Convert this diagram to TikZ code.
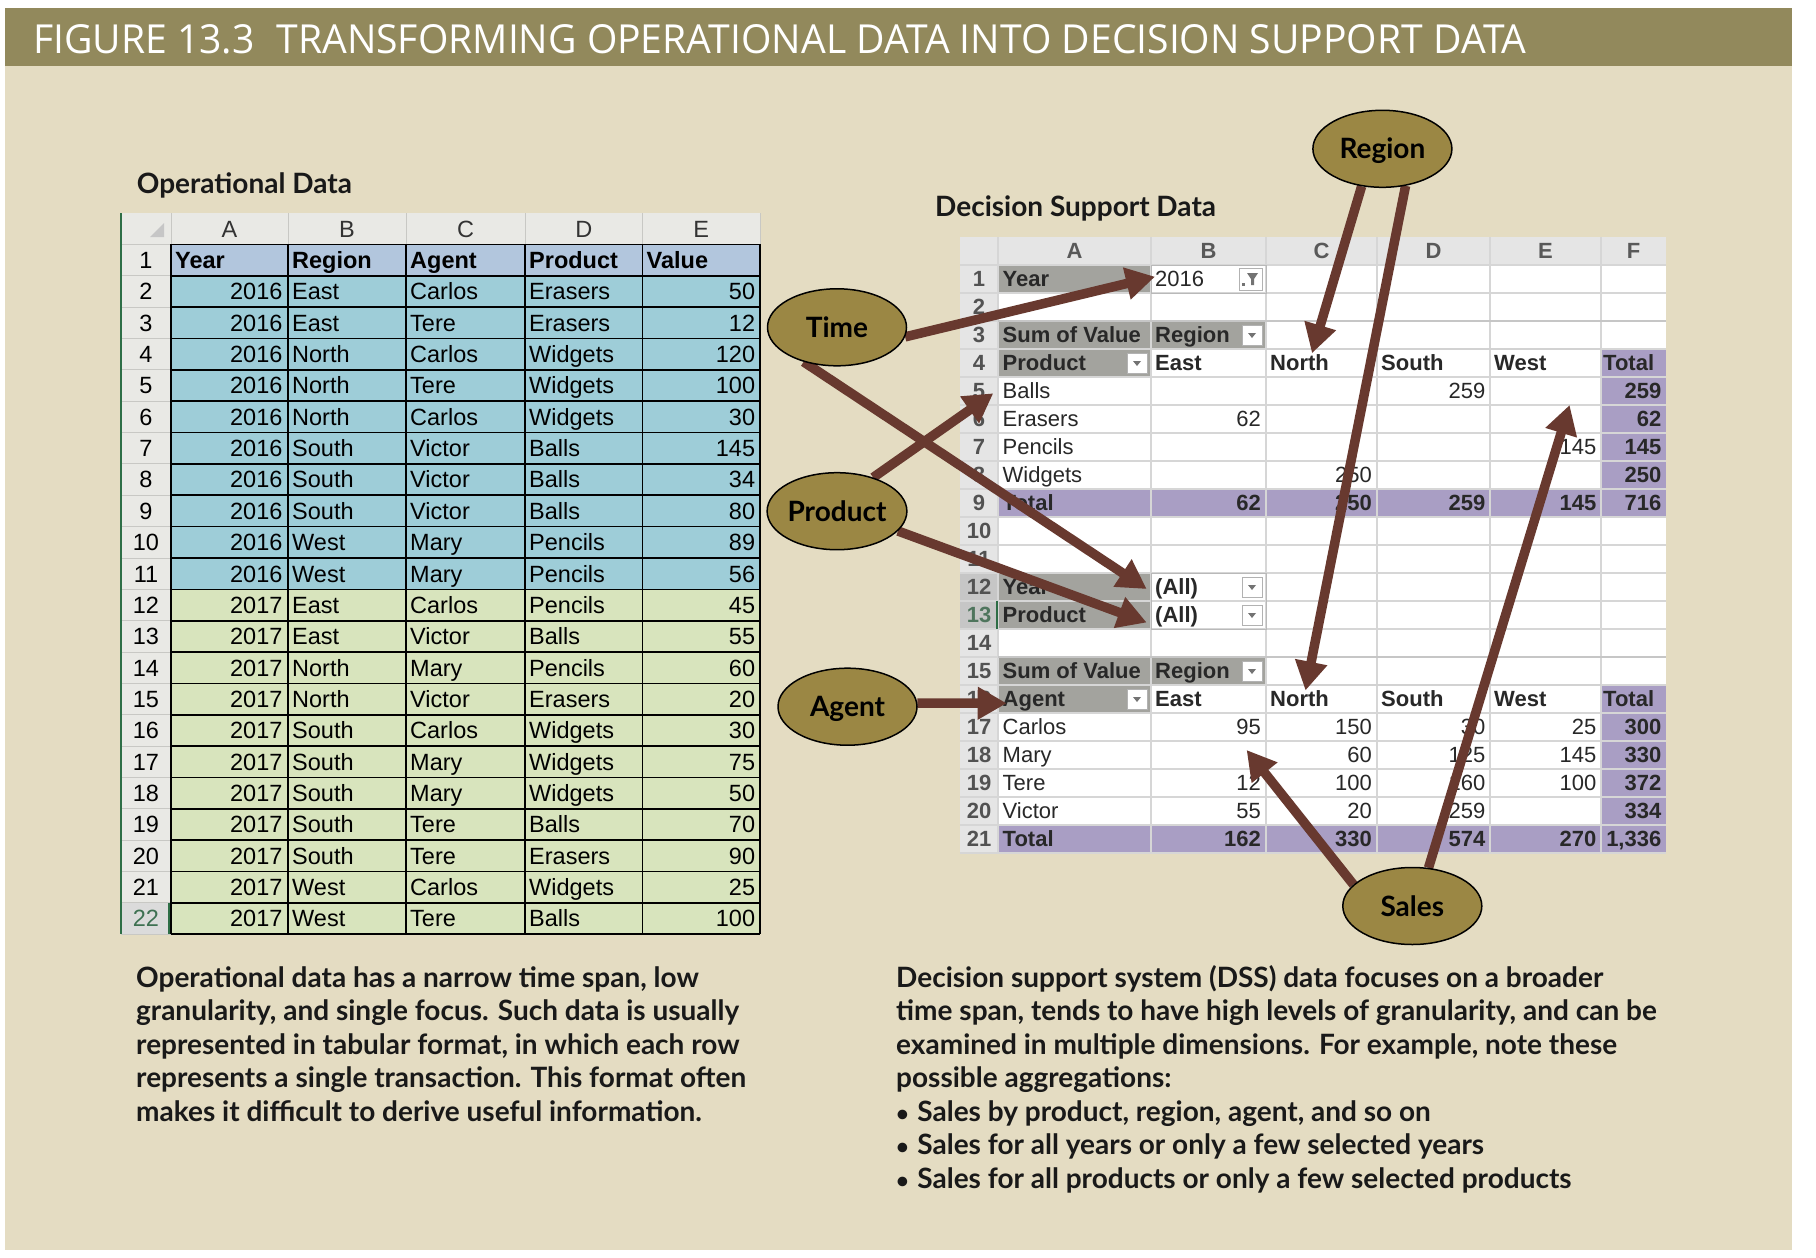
\documentclass[tikz,border=0pt]{standalone}
\usepackage{fontspec}
\usepackage{graphicx}
\usetikzlibrary{arrows.meta,shapes.geometric}
\setmainfont{Lato}
\newfontfamily\lato{Lato}
\newfontfamily\arial{Liberation Sans}
\newfontfamily\osans{Open Sans}
\definecolor{beige}{RGB}{228,220,194}
\definecolor{band}{RGB}{146,137,92}
\definecolor{hdrgray}{RGB}{233,233,229}
\definecolor{hdrline}{RGB}{200,200,196}
\definecolor{rowoneblue}{RGB}{178,198,221}
\definecolor{bluesix}{RGB}{158,205,216}
\definecolor{greenseven}{RGB}{216,228,189}
\definecolor{xlgreen}{RGB}{46,110,70}
\definecolor{pivgray}{RGB}{163,163,158}
\definecolor{pivpurple}{RGB}{169,158,196}
\definecolor{rhdr}{RGB}{229,229,229}
\definecolor{rgrid}{RGB}{214,214,214}
\definecolor{rtext}{RGB}{40,40,40}
\definecolor{arrowc}{RGB}{104,57,47}
\definecolor{ellfill}{RGB}{155,135,68}
\pgfdeclarelayer{arrowlayer}
\pgfdeclarelayer{front}
\pgfsetlayers{main,arrowlayer,front}
\tikzset{
  ltxt/.style={font=\arial\fontsize{23.5}{24}\selectfont, inner sep=0pt, text=black},
  lbold/.style={font=\arial\bfseries\fontsize{23.5}{24}\selectfont, inner sep=0pt, text=black},
  rtxt/.style={font=\arial\fontsize{22}{23}\selectfont, inner sep=0pt, text=rtext},
  rbold/.style={font=\arial\bfseries\fontsize{22}{23}\selectfont, inner sep=0pt, text=rtext},
  lbl/.style={font=\lato\bfseries\fontsize{28}{30}\selectfont, inner sep=0pt, anchor=base west, text=black!90},
  para/.style={font=\lato\bfseries\fontsize{28}{30}\selectfont, inner sep=0pt, anchor=base west, text=black!90},
  dim/.style={ellipse, draw=black, line width=1.5pt, fill=ellfill, minimum width=139pt,
    minimum height=77pt, inner sep=0pt, font=\lato\bfseries\fontsize{28}{30}\selectfont,
    text height=20pt, text depth=0pt, text=black},
  arr/.style={draw=arrowc, line width=9.5pt, -{Triangle[length=29pt,width=31pt]}},
}
\newcommand\ddbtn[2]{%
  \fill[white] ({#1-24},{#2+4}) rectangle ({#1-4},{#2+24});
  \draw[gray!60, line width=0.8pt] ({#1-24},{#2+4}) rectangle ({#1-4},{#2+24});
  \fill[gray!90!black] ({#1-18},{#2+12}) -- ({#1-10},{#2+12}) -- ({#1-14},{#2+17}) -- cycle;}
\begin{document}
\begin{tikzpicture}[x=1pt,y=-1pt]
\useasboundingbox (0,0) rectangle (1816,1258);
\fill[white] (0,0) rectangle (1816,1258);
\fill[beige] (5,8.3) rectangle (1792,1250);
\fill[band] (5,8.3) rectangle (1792,66);
\node[anchor=south west, inner sep=0pt, text=white] (title) at (33,53.8)
  {\resizebox{1493pt}{29pt}{\osans FIGURE 13.3\hspace{0.3em} TRANSFORMING OPERATIONAL DATA INTO DECISION SUPPORT DATA}};

\node[lbl] (opdata) at (136.7,193.3) {Operational Data};
\node[lbl] (dsdata) at (935,216.7) {Decision Support Data};

% ================= LEFT TABLE =================
\fill[hdrgray] (121,213) rectangle (760,244.4);
\fill[hdrgray] (121,244.4) rectangle (171,934.32);
\fill[rowoneblue] (171,244.4) rectangle (760,275.76);
\fill[bluesix] (171,275.76) rectangle (760,589.36);
\fill[greenseven] (171,589.36) rectangle (760,934.32);
\fill[gray!28] (122,902.96) rectangle (170,934.32);
\foreach \x in {171,288,406,525,642.5,760} \draw[hdrline, line width=1pt] (\x,213) -- (\x,244.4);
\foreach \k in {0,...,22} \draw[hdrline, line width=1pt] (121,{244.4+\k*31.36}) -- (171,{244.4+\k*31.36});
\foreach \k in {0,...,22} \draw[black, line width=1.7pt] (171,{244.4+\k*31.36}) -- (760,{244.4+\k*31.36});
\foreach \x in {171,288,406,525,642.5,760} \draw[black, line width=1.7pt] (\x,244.4) -- (\x,934.32);
\draw[xlgreen, line width=2.2pt] (121,213) -- (121,934.32);
\draw[xlgreen, line width=2pt] (169,902.96) -- (169,934.32);
\fill[gray!45] (164,223) -- (164,237) -- (150,237) -- cycle;
% column letters
\foreach \c/\x in {A/229.5,B/347,C/465.5,D/583.75,E/701.25}
  \node[ltxt, anchor=base, text=black!80] (lh\c) at (\x,237.3) {\c};
% row numbers
\foreach \r in {1,...,21}
  \node[ltxt, anchor=base] (ln\r) at (146,{244.4+(\r-1)*31.36+24}) {\r};
\node[ltxt, anchor=base, text=xlgreen!80!gray] (ln22) at (146,{244.4+21*31.36+24}) {22};
% header row
\foreach \t/\x [count=\i] in {Year/175,Region/292,Agent/410,Product/529,Value/646.5}
  \node[lbold, anchor=base west] (lhd\i) at (\x,268.4) {\t};
% data
\foreach \r/\yr/\rg/\ag/\pr/\v in {
  2/2016/East/Carlos/Erasers/50, 3/2016/East/Tere/Erasers/12,
  4/2016/North/Carlos/Widgets/120, 5/2016/North/Tere/Widgets/100,
  6/2016/North/Carlos/Widgets/30, 7/2016/South/Victor/Balls/145,
  8/2016/South/Victor/Balls/34, 9/2016/South/Victor/Balls/80,
  10/2016/West/Mary/Pencils/89, 11/2016/West/Mary/Pencils/56,
  12/2017/East/Carlos/Pencils/45, 13/2017/East/Victor/Balls/55,
  14/2017/North/Mary/Pencils/60, 15/2017/North/Victor/Erasers/20,
  16/2017/South/Carlos/Widgets/30, 17/2017/South/Mary/Widgets/75,
  18/2017/South/Mary/Widgets/50, 19/2017/South/Tere/Balls/70,
  20/2017/South/Tere/Erasers/90, 21/2017/West/Carlos/Widgets/25,
  22/2017/West/Tere/Balls/100}
{
  \pgfmathsetmacro\bl{244.4+(\r-1)*31.36+24}
  \node[ltxt, anchor=base east] (ly\r) at (282.6,\bl) {\yr};
  \node[ltxt, anchor=base west] (lr\r) at (292,\bl) {\rg};
  \node[ltxt, anchor=base west] (la\r) at (410,\bl) {\ag};
  \node[ltxt, anchor=base west] (lp\r) at (529,\bl) {\pr};
  \node[ltxt, anchor=base east] (lv\r) at (755.3,\bl) {\v};
}

% ================= RIGHT TABLE =================
\fill[white] (960,237) rectangle (1666,853);
\fill[rhdr] (960,237) rectangle (1666,265);
\fill[rhdr] (960,265) rectangle (998,853);
\fill[pivgray] (998,265) rectangle (1151,293);
\fill[pivgray] (998,321) rectangle (1266,349);
\fill[pivgray] (998,349) rectangle (1151,377);
\fill[gray!45] (960,573) rectangle (998,629);
\fill[pivgray] (998,573) rectangle (1151,629);
\fill[pivgray] (998,657) rectangle (1266,685);
\fill[pivgray] (998,685) rectangle (1151,713);
\fill[pivpurple] (1601,349) rectangle (1666,489);
\fill[pivpurple] (998,489) rectangle (1666,517);
\fill[pivpurple] (1601,685) rectangle (1666,825);
\fill[pivpurple] (998,825) rectangle (1666,853);
\foreach \k in {0,...,21} \draw[rgrid, line width=1.2pt] (960,{265+\k*28}) -- (1666,{265+\k*28});
\foreach \x in {998,1151,1266,1377,1490,1601} \draw[rgrid, line width=1.2pt] (\x,237) -- (\x,853);
\draw[gray!45, line width=2pt] (998,321) -- (1666,321);
\draw[gray!45, line width=2pt] (998,657) -- (1666,657);
\draw[gray!35, line width=1.5pt] (1266,349) -- (1601,349);
\draw[gray!35, line width=1.5pt] (1266,685) -- (1601,685);
\draw[gray!55, line width=1pt] (1151,265) rectangle (1266,293);
\draw[gray!55, line width=1pt] (1151,573) rectangle (1266,629);
\draw[xlgreen, line width=2pt] (997,601) -- (997,629);
% buttons
\ddbtn{1266}{321}
\ddbtn{1151}{349}
\ddbtn{1266}{573}
\ddbtn{1266}{601}
\ddbtn{1266}{657}
\ddbtn{1151}{685}
\fill[white] (1239,268) rectangle (1262,290);
\draw[gray!60, line width=0.8pt] (1239,268) rectangle (1262,290);
\fill[gray!90!black] (1247,273) -- (1258,273) -- (1254,279) -- (1254,285) -- (1251,285) -- (1251,279) -- cycle;
\fill[gray!90!black] (1242,283) rectangle (1245,286);
% column letters
\foreach \c/\x in {A/1074.5,B/1208.5,C/1321.5,D/1433.5,E/1545.5,F/1633.5}
  \node[rbold, anchor=base, text=black!65] (rh\c) at (\x,258.5) {\c};
% row numbers
\foreach \r in {1,...,12,14,15,16,17,18,19,20,21}
  \node[rbold, anchor=base, text=black!68] (rn\r) at (979,{265+(\r-1)*28+21.5}) {\r};
\node[rbold, anchor=base, text=xlgreen!60!gray] (rn13) at (979,{265+12*28+21.5}) {13};
% left aligned labels
\foreach \r/\x/\t/\s [count=\i] in {
  1/1002.5/Year/rbold, 1/1155/2016/rtxt,
  3/1002.5/Sum of Value/rbold, 3/1155/Region/rbold,
  4/1002.5/Product/rbold, 4/1155/East/rbold, 4/1270/North/rbold, 4/1381/South/rbold,
  4/1494/West/rbold, 4/1603/Total/rbold,
  5/1002.5/Balls/rtxt, 6/1002.5/Erasers/rtxt, 7/1002.5/Pencils/rtxt, 8/1002.5/Widgets/rtxt,
  9/1002.5/Total/rbold,
  12/1002.5/Year/rbold, 12/1155/(All)/rbold, 13/1002.5/Product/rbold, 13/1155/(All)/rbold,
  15/1002.5/Sum of Value/rbold, 15/1155/Region/rbold,
  16/1002.5/Agent/rbold, 16/1155/East/rbold, 16/1270/North/rbold, 16/1381/South/rbold,
  16/1494/West/rbold, 16/1603/Total/rbold,
  17/1002.5/Carlos/rtxt, 18/1002.5/Mary/rtxt, 19/1002.5/Tere/rtxt, 20/1002.5/Victor/rtxt,
  21/1002.5/Total/rbold}
  \node[style=\s, anchor=base west] (rl\i) at (\x,{265+(\r-1)*28+21.5}) {\t};
% right aligned numbers
\foreach \r/\x/\t/\s [count=\i] in {
  5/1485.5/259/rtxt, 5/1661.5/259/rbold,
  6/1261/62/rtxt, 6/1661.5/62/rbold,
  7/1596.5/145/rtxt, 7/1661.5/145/rbold,
  8/1372/250/rtxt, 8/1661.5/250/rbold,
  9/1261/62/rbold, 9/1372/250/rbold, 9/1485.5/259/rbold, 9/1596.5/145/rbold, 9/1661.5/716/rbold,
  17/1261/95/rtxt, 17/1372/150/rtxt, 17/1485.5/30/rtxt, 17/1596.5/25/rtxt, 17/1661.5/300/rbold,
  18/1372/60/rtxt, 18/1485.5/125/rtxt, 18/1596.5/145/rtxt, 18/1661.5/330/rbold,
  19/1261/12/rtxt, 19/1372/100/rtxt, 19/1485.5/160/rtxt, 19/1596.5/100/rtxt, 19/1661.5/372/rbold,
  20/1261/55/rtxt, 20/1372/20/rtxt, 20/1485.5/259/rtxt, 20/1661.5/334/rbold,
  21/1261/162/rbold, 21/1372/330/rbold, 21/1485.5/574/rbold, 21/1596.5/270/rbold, 21/1661.5/{1,336}/rbold}
  \node[style=\s, anchor=base east] (rv\i) at (\x,{265+(\r-1)*28+21.5}) {\t};

% ================= BOTTOM TEXT =================
\foreach \t [count=\i] in {
  {Operational data has a narrow time span, low},
  {granularity, and single focus. Such data is usually},
  {represented in tabular format, in which each row},
  {represents a single transaction. This format often},
  {makes it difficult to derive useful information.}}
  \node[para] (pl\i) at (136,{987+(\i-1)*33.5}) {\t};
\foreach \t [count=\i] in {
  {Decision support system (DSS) data focuses on a broader},
  {time span, tends to have high levels of granularity, and can be},
  {examined in multiple dimensions. For example, note these},
  {possible aggregations:},
  {{\fontsize{22}{24}\selectfont\textbullet}\hspace{0.3em}Sales by product, region, agent, and so on},
  {{\fontsize{22}{24}\selectfont\textbullet}\hspace{0.3em}Sales for all years or only a few selected years},
  {{\fontsize{22}{24}\selectfont\textbullet}\hspace{0.3em}Sales for all products or only a few selected products}}
  \node[para] (pr\i) at (896,{987+(\i-1)*33.5}) {\t};

% ================= ELLIPSES AND ARROWS =================
\begin{pgfonlayer}{front}
\node[dim] (time) at (837,327.3) {Time};
\node[dim] (product) at (837,511.2) {Product};
\node[dim] (agent) at (847.5,706.7) {Agent};
\node[dim] (region) at (1382.4,148.8) {Region};
\node[dim] (sales) at (1412.3,906) {Sales};
\end{pgfonlayer}

\coordinate (tTimeA) at (1155,276.7);
\coordinate (tTimeB) at (1146.7,589);
\coordinate (tProdA) at (993.3,393.3);
\coordinate (tProdB) at (1146.7,622.5);
\coordinate (tAgent) at (1006.7,703.3);
\coordinate (tRegA) at (1312,353.3);
\coordinate (tRegB) at (1305.5,690.5);
\coordinate (tSalesA) at (1246.6,750);
\coordinate (tSalesB) at (1569.6,405);

\begin{pgfonlayer}{arrowlayer}
\draw[arr] (time.-8) -- (tTimeA);
\draw[arr] (time.226) -- (tTimeB);
\draw[arr] (product.43) -- (tProdA);
\draw[arr] (product.-18) -- (tProdB);
\draw[arr] (agent.3) -- (tAgent);
\draw[arr] (region.-119) -- (tRegA);
\draw[arr] (region.-58) -- (tRegB);
\draw[arr] (sales.160) -- (tSalesA);
\draw[arr] (sales.67) -- (tSalesB);
\end{pgfonlayer}
\end{tikzpicture}
\end{document}
